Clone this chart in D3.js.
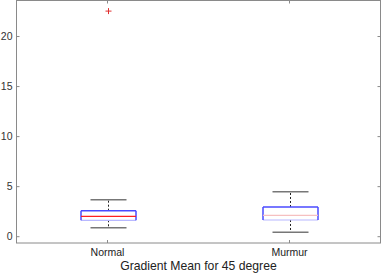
<!DOCTYPE html>
<html><head><meta charset="utf-8">
<script src="https://cdn.jsdelivr.net/npm/d3@7"></script>
<style>body{margin:0;background:#fff}svg{display:block}text{font-family:"Liberation Sans",Arial,sans-serif}</style>
</head><body>
<script>
const categories = ["Normal", "Murmur"];
const whiskerLow = [0.9, 0.44];
const q1 = [1.64, 1.67];
const medians = [2.04, 2.14];
const q3 = [2.6, 2.97];
const whiskerHigh = [3.7, 4.5];
const outliers = [[22.54], []];
const yTicks = [0, 5, 10, 15, 20];
const xTitle = "Gradient Mean for 45 degree";

const W = 381, H = 273;
const L = 16.5, R = 380.5, T = 0.5, B = 243;
const svg = d3.select("body").append("svg").attr("width", W).attr("height", H);
const x = d3.scalePoint().domain(categories).range([L, R]).padding(0.5);
const y = d3.scaleLinear().domain([-0.63, 23.6]).range([B, T]);
const axisCol = "#8a8a8a";

svg.append("rect").attr("x", L).attr("y", T).attr("width", R - L).attr("height", B - T)
  .attr("fill", "none").attr("stroke", axisCol).attr("stroke-width", 1);

yTicks.forEach(v => {
  svg.append("line").attr("x1", L).attr("x2", L + 3).attr("y1", y(v)).attr("y2", y(v)).attr("stroke", axisCol);
  svg.append("line").attr("x1", R - 3).attr("x2", R).attr("y1", y(v)).attr("y2", y(v)).attr("stroke", axisCol);
  svg.append("text").attr("x", L - 4).attr("y", y(v)).attr("dy", "0.35em").attr("text-anchor", "end")
    .attr("font-size", 10.5).attr("fill", "#333").text(v);
});
categories.forEach(c => {
  svg.append("line").attr("x1", x(c)).attr("x2", x(c)).attr("y1", B).attr("y2", B - 3).attr("stroke", axisCol);
  svg.append("line").attr("x1", x(c)).attr("x2", x(c)).attr("y1", T).attr("y2", T + 3).attr("stroke", axisCol);
  svg.append("text").attr("x", x(c)).attr("y", 256).attr("text-anchor", "middle")
    .attr("font-size", 10.5).attr("fill", "#222").text(c);
});
svg.append("text").attr("x", 198.5).attr("y", 269.5).attr("text-anchor", "middle")
  .attr("font-size", 12.2).attr("fill", "#222").text(xTitle);

const bw = 55, cw = 36;
const medCols = ["#ff2020", "#f6c0c0"];
categories.forEach((c, i) => {
  const cx = Math.round(x(c)) + 0.5;
  svg.append("line").attr("x1", cx).attr("x2", cx).attr("y1", y(q3[i])).attr("y2", y(whiskerHigh[i]))
    .attr("stroke", "#222").attr("stroke-dasharray", "2,2");
  svg.append("line").attr("x1", cx).attr("x2", cx).attr("y1", y(q1[i])).attr("y2", y(whiskerLow[i]))
    .attr("stroke", "#222").attr("stroke-dasharray", "2,2");
  [whiskerHigh[i], whiskerLow[i]].forEach(v => {
    svg.append("line").attr("x1", cx - cw / 2).attr("x2", cx + cw / 2).attr("y1", y(v)).attr("y2", y(v))
      .attr("stroke", "#777").attr("stroke-width", 1.5);
  });
  const x0 = cx - bw / 2, x1 = cx + bw / 2;
  svg.append("line").attr("x1", x0).attr("x2", x1).attr("y1", y(q3[i])).attr("y2", y(q3[i])).attr("stroke", "#4a4aff").attr("stroke-width", 1.5);
  svg.append("line").attr("x1", x0).attr("x2", x1).attr("y1", y(q1[i])).attr("y2", y(q1[i])).attr("stroke", "#b8b8ff").attr("stroke-width", 1.2);
  svg.append("line").attr("x1", x0).attr("x2", x0).attr("y1", y(q1[i])).attr("y2", y(q3[i])).attr("stroke", "#4a4aff").attr("stroke-width", 1.5);
  svg.append("line").attr("x1", x1).attr("x2", x1).attr("y1", y(q1[i])).attr("y2", y(q3[i])).attr("stroke", "#4a4aff").attr("stroke-width", 1.5);
  svg.append("line").attr("x1", x0).attr("x2", x1).attr("y1", y(medians[i])).attr("y2", y(medians[i])).attr("stroke", medCols[i]).attr("stroke-width", 1.2);
  outliers[i].forEach(v => {
    const py = y(v);
    svg.append("path").attr("d", `M${cx - 3},${py}H${cx + 3}M${cx},${py - 3}V${py + 3}`)
      .attr("stroke", "#e03030").attr("stroke-width", 1);
  });
});
</script>
</body></html>
